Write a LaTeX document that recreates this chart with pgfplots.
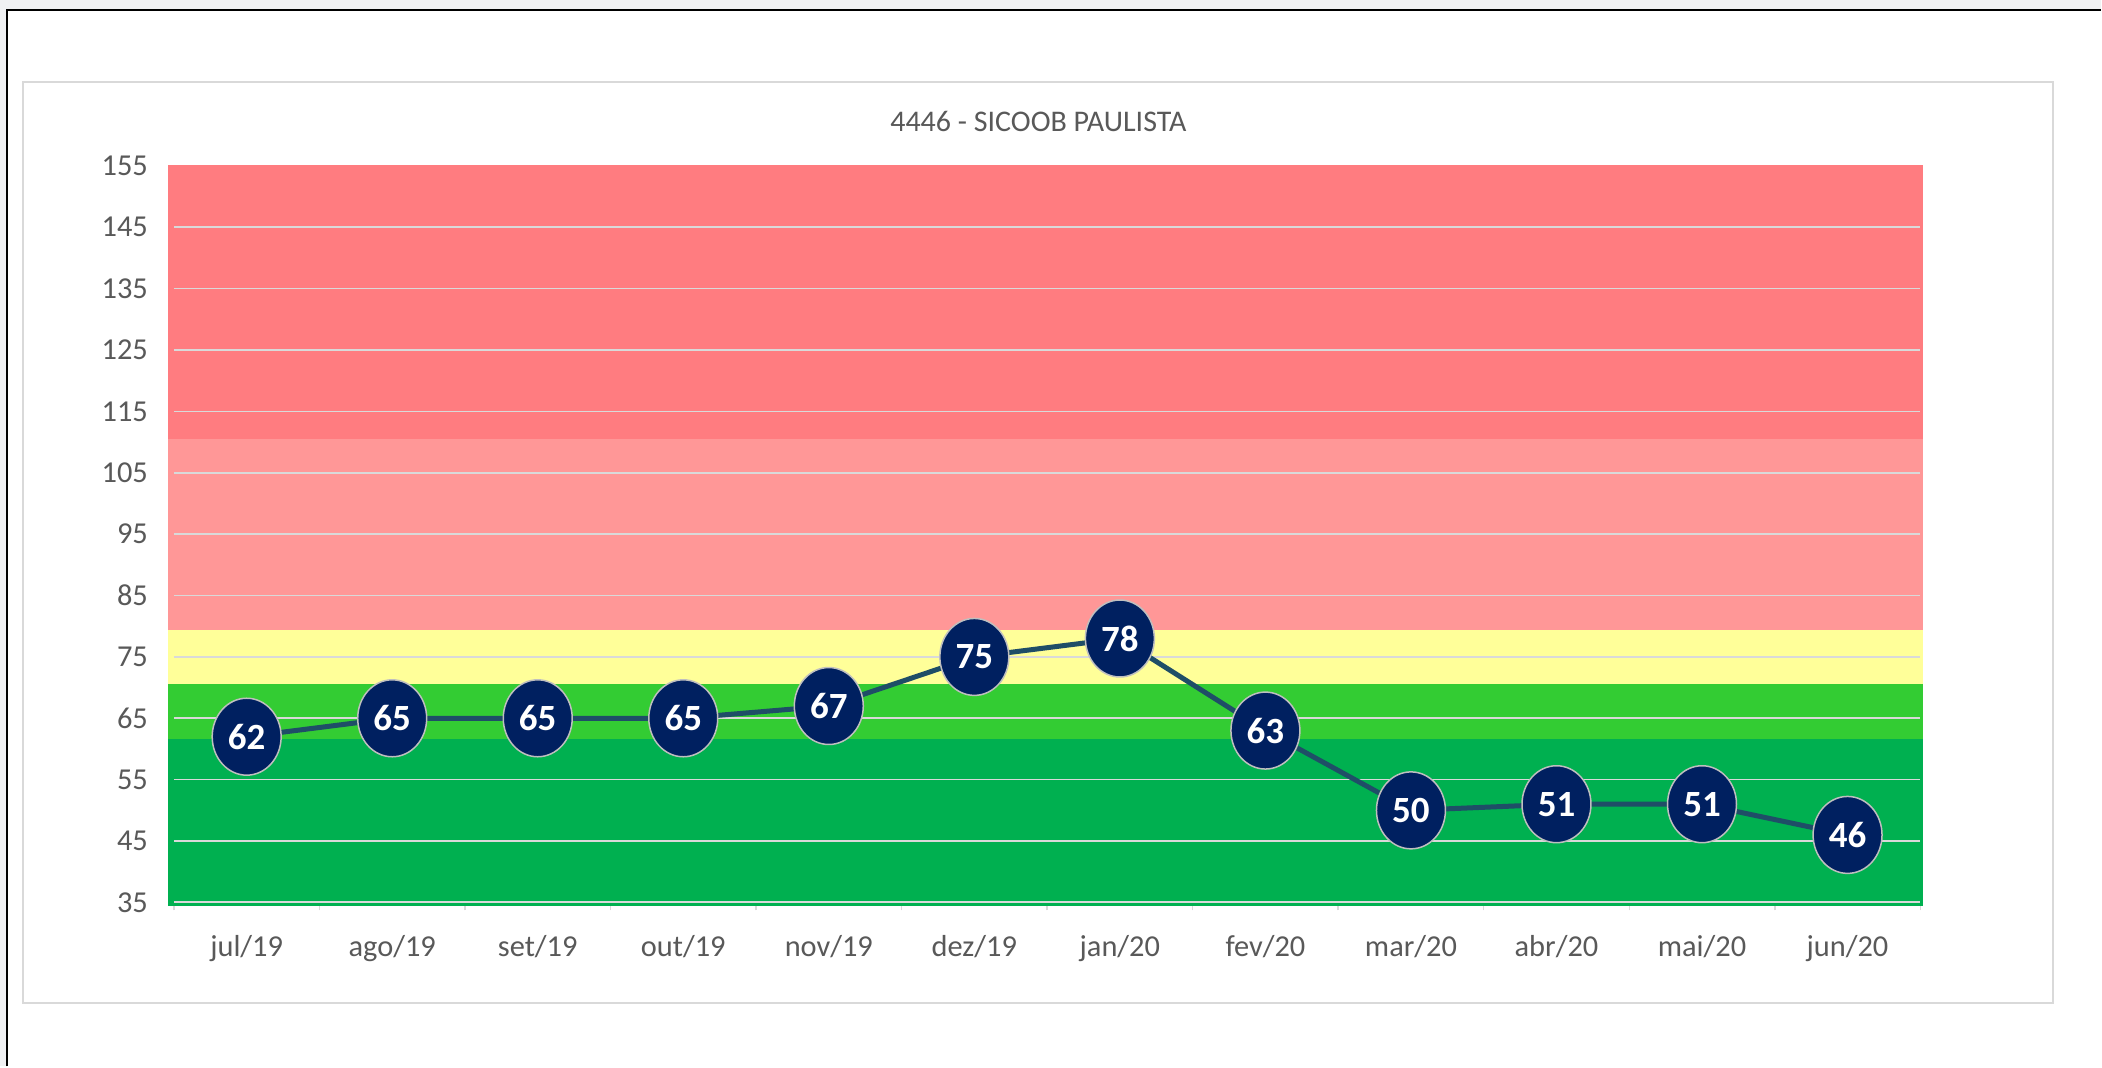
\documentclass[border=0pt]{standalone}
\usepackage{fontspec}
\setmainfont{Carlito}
\usepackage{pgfplots}
\pgfplotsset{compat=1.18}
\usetikzlibrary{shapes.geometric}
\definecolor{bandred}{HTML}{FF7C80}
\definecolor{bandlred}{HTML}{FF9797}
\definecolor{bandyel}{HTML}{FFFF99}
\definecolor{bandlgreen}{HTML}{33CC33}
\definecolor{bandgreen}{HTML}{00B050}
\definecolor{navy}{HTML}{002060}
\definecolor{linec}{HTML}{1F4E67}
\definecolor{txtgray}{HTML}{595959}
\definecolor{gridc}{HTML}{D9D9D9}
\definecolor{bggray}{HTML}{F0F1F3}
\definecolor{ellborder}{HTML}{BFBFBF}
\begin{document}
\begin{tikzpicture}
\fill[white] (0pt,0pt) rectangle (1051pt,533.5pt);
\fill[bggray] (0pt,529pt) rectangle (1051pt,533.5pt);
\fill[bggray] (0pt,0pt) rectangle (3pt,533.5pt);
\draw[black,line width=1.3pt] (3.6pt,0pt) -- (3.6pt,528.4pt) -- (1051pt,528.4pt);
\draw[gridc,line width=1pt] (11.5pt,31.5pt) rectangle (1027pt,492.5pt);
\node[text=txtgray, font=\fontsize{15}{17}\selectfont, inner sep=0pt] at (519.5pt,472.6pt) {4446 - SICOOB PAULISTA};
\begin{axis}[
  at={(87pt,82pt)}, anchor=south west,
  scale only axis, width=873.75pt, height=368.5pt,
  clip=false,
  xmin=-0.5, xmax=11.5, ymin=35, ymax=155,
  axis lines*=left,
  y axis line style={draw=none},
  x axis line style={draw=none},
  xtick={0,...,11},
  xticklabels={jul/19,ago/19,set/19,out/19,nov/19,dez/19,jan/20,fev/20,mar/20,abr/20,mai/20,jun/20},
  minor xtick={-0.5,0.5,...,11.5},
  ytick={35,45,...,155},
  major tick length=0pt,
  minor tick length=4pt,
  tick align=outside,
  minor tick style={gridc, line width=0.75pt},
  /pgf/number format/assume math mode=true,
  ticklabel style={text=txtgray, font=\fontsize{15.2}{17}\selectfont},
  yticklabel style={xshift=-9.5pt},
  xticklabel style={yshift=-13pt},
]
% bands
\addplot[fill=bandgreen, draw=none] coordinates {(-0.54,34.35) (11.52,34.35) (11.52,61.6) (-0.54,61.6)};
\addplot[fill=bandlgreen, draw=none] coordinates {(-0.54,61.6) (11.52,61.6) (11.52,70.6) (-0.54,70.6)};
\addplot[fill=bandyel, draw=none] coordinates {(-0.54,70.6) (11.52,70.6) (11.52,79.4) (-0.54,79.4)};
\addplot[fill=bandlred, draw=none] coordinates {(-0.54,79.4) (11.52,79.4) (11.52,110.5) (-0.54,110.5)};
\addplot[fill=bandred, draw=none] coordinates {(-0.54,110.5) (11.52,110.5) (11.52,155.2) (-0.54,155.2)};
% gridlines and axis line
\pgfplotsinvokeforeach{45,55,...,145}{
\addplot[gridc, line width=0.8pt] coordinates {(-0.5,#1) (11.5,#1)};
}
\addplot[gridc, line width=1pt] coordinates {(-0.5,35) (11.5,35)};
% data
\addplot[linec, line width=2.5pt, line join=round, mark=none,
  nodes near coords,
  nodes near coords align={center},
  every node near coord/.append style={
    shape=ellipse, anchor=center, fill=navy, draw=ellborder, line width=0.75pt,
    minimum width=34.5pt, minimum height=38.5pt, inner sep=0pt,
    text=white, font=\bfseries\fontsize{18.5}{20}\selectfont}] coordinates {
(0,62) (1,65) (2,65) (3,65) (4,67) (5,75) (6,78) (7,63) (8,50) (9,51) (10,51) (11,46)};
\end{axis}
\end{tikzpicture}
\end{document}
